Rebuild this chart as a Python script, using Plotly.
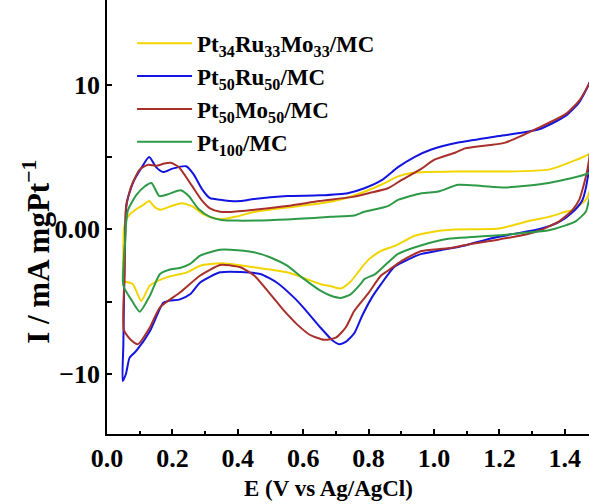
import plotly.graph_objects as go

# ---- data (E in V vs Ag/AgCl, I in mA mgPt^-1), closed CV loops ----
E_ptrumo = [0.048, 0.050, 0.052, 0.065, 0.090, 0.112, 0.129, 0.145, 0.162, 0.190, 0.228, 0.260, 0.290, 0.315, 0.346, 0.400, 0.449, 0.550, 0.654, 0.720, 0.787, 0.840, 0.890, 0.930, 0.962, 1.064, 1.218, 1.351, 1.423, 1.480, 1.500,
            1.490, 1.474, 1.464, 1.423, 1.402, 1.351, 1.300, 1.198, 1.064, 0.990, 0.941, 0.880, 0.838, 0.800, 0.777, 0.746, 0.715, 0.685, 0.654, 0.551, 0.449, 0.377, 0.346, 0.285, 0.244, 0.182, 0.131, 0.105, 0.079, 0.050]
I_ptrumo = [-3.6, -1.5, 0.1, 0.9, 1.4, 1.7, 1.95, 1.55, 1.35, 1.55, 1.8, 1.6, 1.1, 0.85, 0.7, 0.9, 1.2, 1.5, 1.8, 2.1, 2.6, 3.1, 3.66, 3.9, 3.95, 4.0, 4.0, 4.13, 4.7, 5.3, 6.2,
            4.0, 2.5, 2.03, 1.33, 1.21, 0.86, 0.63, 0.05, -0.02, -0.2, -0.45, -1.15, -1.5, -2.1, -2.7, -3.6, -4.1, -3.95, -3.8, -2.98, -2.63, -2.4, -2.35, -2.52, -2.98, -3.33, -3.9, -4.96, -3.8, -3.6]

E_ptru = [0.048, 0.050, 0.053, 0.056, 0.060, 0.079, 0.105, 0.129, 0.150, 0.172, 0.200, 0.242, 0.265, 0.290, 0.315, 0.346, 0.377, 0.408, 0.450, 0.551, 0.650, 0.736, 0.787, 0.840, 0.890, 0.940, 0.992, 1.074, 1.198, 1.321, 1.402, 1.444, 1.464, 1.480, 1.500,
          1.490, 1.480, 1.454, 1.420, 1.383, 1.320, 1.249, 1.170, 1.095, 1.020, 0.962, 0.920, 0.879, 0.838, 0.808, 0.780, 0.756, 0.730, 0.710, 0.690, 0.654, 0.600, 0.572, 0.520, 0.469, 0.408, 0.346, 0.285, 0.254, 0.223, 0.190, 0.172, 0.131, 0.090, 0.069, 0.058, 0.048]
I_ptru = [-10.5, -8.0, -3.0, 0.0, 1.8, 3.2, 4.24, 5.0, 4.3, 3.96, 4.2, 4.36, 3.8, 2.8, 2.15, 2.05, 1.96, 1.95, 2.1, 2.3, 2.35, 2.5, 2.84, 3.4, 4.3, 5.0, 5.52, 6.0, 6.45, 6.92, 7.85, 8.79, 9.6, 10.4, 12.2,
          8.0, 5.06, 2.03, 1.1, 0.51, 0.0, -0.3, -0.65, -1.12, -1.45, -1.7, -2.1, -2.6, -3.8, -4.8, -6.0, -7.2, -7.8, -7.95, -7.7, -6.83, -5.4, -4.73, -3.7, -3.1, -2.95, -2.98, -3.68, -4.5, -4.85, -4.95, -5.08, -7.06, -8.4, -8.9, -10.0, -10.5]

E_ptmo = [0.052, 0.054, 0.056, 0.058, 0.074, 0.100, 0.126, 0.151, 0.175, 0.195, 0.220, 0.260, 0.290, 0.315, 0.346, 0.377, 0.450, 0.551, 0.650, 0.756, 0.800, 0.859, 0.900, 0.962, 1.000, 1.064, 1.095, 1.218, 1.321, 1.402, 1.444, 1.479, 1.500,
          1.485, 1.469, 1.444, 1.423, 1.383, 1.320, 1.269, 1.200, 1.115, 1.050, 0.962, 0.941, 0.900, 0.859, 0.838, 0.800, 0.756, 0.730, 0.700, 0.664, 0.620, 0.582, 0.540, 0.500, 0.450, 0.408, 0.377, 0.346, 0.285, 0.223, 0.162, 0.131, 0.095, 0.075, 0.052]
I_ptmo = [-7.0, -3.0, 0.0, 1.5, 2.96, 4.13, 4.47, 4.4, 4.55, 4.6, 4.3, 3.0, 2.0, 1.45, 1.21, 1.2, 1.35, 1.61, 1.95, 2.26, 2.5, 2.84, 3.4, 4.2, 4.8, 5.3, 5.6, 6.0, 7.04, 7.97, 8.9, 10.3, 11.8,
          7.0, 4.1, 2.03, 1.33, 0.55, -0.1, -0.42, -0.7, -1.0, -1.3, -1.5, -1.7, -2.2, -2.87, -3.2, -4.4, -5.66, -6.8, -7.5, -7.65, -7.3, -6.6, -5.6, -4.5, -3.2, -2.63, -2.5, -2.47, -3.2, -4.38, -5.4, -6.8, -7.95, -7.7, -7.0]

E_pt = [0.050, 0.055, 0.058, 0.064, 0.090, 0.115, 0.136, 0.160, 0.190, 0.225, 0.250, 0.280, 0.315, 0.350, 0.400, 0.551, 0.685, 0.756, 0.787, 0.859, 0.890, 0.962, 1.013, 1.074, 1.146, 1.218, 1.351, 1.474, 1.500,
        1.490, 1.474, 1.464, 1.433, 1.400, 1.351, 1.269, 1.198, 1.115, 1.044, 0.962, 0.890, 0.859, 0.820, 0.787, 0.777, 0.745, 0.715, 0.685, 0.654, 0.600, 0.551, 0.500, 0.449, 0.377, 0.346, 0.285, 0.254, 0.223, 0.190, 0.162, 0.131, 0.100, 0.075, 0.050]
I_pt = [-3.9, -1.0, 0.3, 1.33, 2.38, 2.96, 3.2, 2.3, 2.45, 2.7, 2.3, 1.4, 0.86, 0.65, 0.6, 0.68, 0.86, 0.95, 1.21, 1.6, 2.03, 2.5, 2.61, 3.08, 3.0, 2.9, 3.2, 3.9, 4.6,
        3.2, 2.0, 1.21, 0.55, 0.25, -0.07, -0.26, -0.42, -0.54, -0.65, -1.1, -1.7, -2.3, -3.1, -3.45, -3.75, -4.5, -4.75, -4.6, -4.27, -3.4, -2.52, -1.95, -1.59, -1.42, -1.42, -1.82, -2.4, -2.68, -2.8, -3.1, -4.6, -5.7, -4.9, -3.9]

names = ["Pt<sub>34</sub>Ru<sub>33</sub>Mo<sub>33</sub>/MC", "Pt<sub>50</sub>Ru<sub>50</sub>/MC",
         "Pt<sub>50</sub>Mo<sub>50</sub>/MC", "Pt<sub>100</sub>/MC"]
colors = ["#F2D500", "#1414E0", "#A8302A", "#2E9A48"]
xs = [E_ptrumo, E_ptru, E_ptmo, E_pt]
ys = [I_ptrumo, I_ptru, I_ptmo, I_pt]

x_ticks = [0.0, 0.2, 0.4, 0.6, 0.8, 1.0, 1.2, 1.4]
x_ticktext = ["0.0", "0.2", "0.4", "0.6", "0.8", "1.0", "1.2", "1.4"]
y_ticks = [-10, -5, 0, 5, 10]
y_ticktext = ["\u221210", "", "0.00", "", "10"]

FONT = "Liberation Serif"

fig = go.Figure()
for i, (x, y, n, c) in enumerate(zip(xs, ys, names, colors)):
    fig.add_trace(go.Scatter(x=x, y=y, mode="lines", name=n, legendgroup=f"g{i}",
                             line=dict(color=c, width=2, shape="spline", smoothing=0.6)))

fig.update_layout(
    width=589, height=504,
    margin=dict(l=107, r=0, t=0, b=70),
    paper_bgcolor="white", plot_bgcolor="white",
    font=dict(family=FONT, color="black"),
    showlegend=True,
    legend=dict(x=0.052, y=0.95, xanchor="left", yanchor="top",
                font=dict(family=FONT, size=23, color="black", weight="bold"),
                bgcolor="rgba(0,0,0,0)", tracegroupgap=0, itemwidth=55),
    annotations=[
        dict(text="I / mA mgPt<sup>\u22121</sup>", textangle=-90,
             xref="paper", yref="paper", x=-0.145, y=0.42,
             xanchor="center", yanchor="middle", showarrow=False,
             font=dict(family=FONT, size=31, color="black", weight="bold")),
        dict(text="E (V vs Ag/AgCl)",
             xref="paper", yref="paper", x=0.46, y=-0.126,
             xanchor="center", yanchor="middle", showarrow=False,
             font=dict(family=FONT, size=23, color="black", weight="bold")),
    ],
)
fig.update_xaxes(
    range=[0, 1.474], showgrid=False, zeroline=False,
    showline=True, linecolor="black", linewidth=1.5, mirror=False,
    tickvals=x_ticks, ticktext=x_ticktext, ticks="inside", ticklen=5, tickwidth=1.5, tickcolor="black",
    minor=dict(dtick=0.1, tick0=0, ticks="inside", ticklen=3, tickwidth=1.5, tickcolor="black"),
    tickfont=dict(family=FONT, size=26, color="black", weight="bold"),
)
fig.update_yaxes(
    range=[-14.17, 15.87], showgrid=False, zeroline=False,
    showline=True, linecolor="black", linewidth=1.5, mirror=False,
    tickvals=y_ticks, ticktext=y_ticktext, ticks="inside", ticklen=5, tickwidth=1.5, tickcolor="black",
    tickfont=dict(family=FONT, size=26, color="black", weight="bold"),
)

fig.write_html("out.html")
